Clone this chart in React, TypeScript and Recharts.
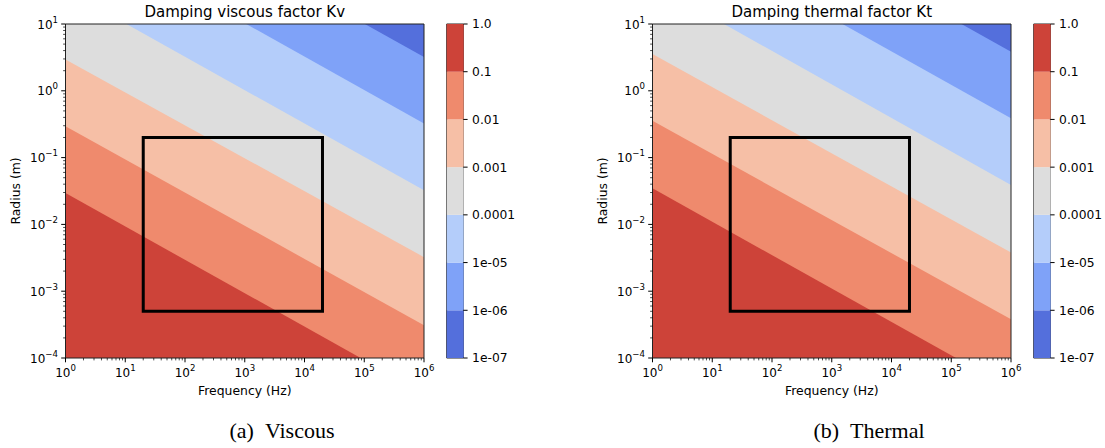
import React from 'react'
import {
  ComposedChart,
  Area,
  XAxis,
  YAxis,
  ReferenceArea,
  BarChart,
  Bar,
} from 'recharts'

// frequencies at the two ends of the x axis (Hz)
const frequencies = [1, 1e6]

// log10(radius) of each contour boundary (0.1, 0.01, ... 1e-6) at 1 Hz and at 1 MHz
const viscousAt1Hz = [-1.53, -0.53, 0.47, 1.51, 2.515, 3.505]
const viscousAt1MHz = [-4.53, -3.51, -2.49, -1.49, -0.49, 0.505]
const thermalAt1Hz = [-1.46, -0.45, 0.55, 1.6, 2.59, 3.585]
const thermalAt1MHz = [-4.46, -3.42, -2.42, -1.41, -0.41, 0.585]

// band colours, from the 1.0–0.1 band down to the 1e-06–1e-07 band
const bandColors = ['#cd4339', '#ef8a6d', '#f6bfa6', '#dddddd', '#b4cdfa', '#7fa2f8', '#546fdc']

// colorbar labels, bottom to top
const levelLabels = ['1e-07', '1e-06', '1e-05', '0.0001', '0.001', '0.01', '0.1', '1.0']

// black box: 20 Hz – 20 kHz, 0.5 mm – 0.2 m
const boxFreq = [20, 20000]
const boxRadius = [5e-4, 0.2]

const xMajor = [1, 10, 100, 1e3, 1e4, 1e5, 1e6]
const yMajor = [1e-4, 1e-3, 1e-2, 0.1, 1, 10]

const withMinors = (majors: number[]) => {
  const out: number[] = []
  majors.forEach((m, i) => {
    out.push(m)
    if (i < majors.length - 1) for (let k = 2; k < 10; k++) out.push(k * m)
  })
  return out
}
const xTicks = withMinors(xMajor)
const yTicks = withMinors(yMajor)

const FONT = 'DejaVu Sans, sans-serif'

function buildRows(at1Hz: number[], at1MHz: number[]) {
  const edges = [at1Hz, at1MHz]
  return frequencies.map((f, i) => {
    const row: any = { f }
    edges[i].forEach((logR, k) => {
      row['b' + k] = [1e-6, Math.pow(10, logR)]
    })
    row.b6 = [1e-6, 1e3]
    return row
  })
}

const expLabel = (v: number) => {
  const e = Math.round(Math.log10(v))
  return { e, major: Math.abs(Math.log10(v) - e) < 1e-6, txt: e < 0 ? '\u2212' + -e : String(e) }
}

function XTick(props: any) {
  const { x, y, payload } = props
  const { major, txt } = expLabel(payload.value)
  return (
    <g>
      <line x1={x} x2={x} y1={y} y2={y + (major ? 4.3 : 2.4)} stroke="#000" strokeWidth={major ? 1 : 0.7} />
      {major && (
        <text x={x} y={y + 18.7} textAnchor="middle" fontSize={12} fontFamily={FONT} fill="#000">
          <tspan>10</tspan>
          <tspan dy={-6} fontSize={8.6}>{txt}</tspan>
        </text>
      )}
    </g>
  )
}

function YTick(props: any) {
  const { x, y, payload } = props
  const { major, txt } = expLabel(payload.value)
  return (
    <g>
      <line x1={x - (major ? 4.3 : 2.4)} x2={x} y1={y} y2={y} stroke="#000" strokeWidth={major ? 1 : 0.7} />
      {major && (
        <text x={x - 7.5} y={y + 4.5} textAnchor="end" fontSize={12} fontFamily={FONT} fill="#000">
          <tspan>10</tspan>
          <tspan dy={-6} fontSize={8.6}>{txt}</tspan>
        </text>
      )}
    </g>
  )
}

function Panel({ left, title, tag, name, at1Hz, at1MHz }: any) {
  const rows = buildRows(at1Hz, at1MHz)
  const cbData = [{ name: 'cb', s0: 1, s1: 1, s2: 1, s3: 1, s4: 1, s5: 1, s6: 1 }]
  return (
    <div style={{ position: 'absolute', left, top: 0, width: 520, height: 448 }}>
      <div style={{ position: 'absolute', left: 0, top: 0 }}>
        <ComposedChart width={440} height={448} data={rows} margin={{ top: 24, right: 16, bottom: 50, left: 8.5 }}>
          <XAxis
            dataKey="f"
            type="number"
            scale="log"
            domain={[1, 1e6]}
            ticks={xTicks}
            interval={0}
            tick={(p: any) => <XTick {...p} />}
            tickSize={0}
            tickMargin={0}
            tickLine={false}
            axisLine={false}
            height={40}
          />
          <YAxis
            type="number"
            scale="log"
            domain={[1e-4, 10]}
            allowDataOverflow
            ticks={yTicks}
            interval={0}
            tick={(p: any) => <YTick {...p} />}
            tickSize={0}
            tickMargin={0}
            tickLine={false}
            axisLine={false}
            width={57}
          />
          {[6, 5, 4, 3, 2, 1, 0].map((k) => (
            <Area
              key={k}
              dataKey={'b' + k}
              type="linear"
              fill={bandColors[k]}
              fillOpacity={1}
              stroke="none"
              dot={false}
              activeDot={false}
              isAnimationActive={false}
            />
          ))}
          <ReferenceArea x1={1} x2={1e6} y1={1e-4} y2={10} fill="none" stroke="#222" strokeWidth={1} />
          <ReferenceArea
            x1={boxFreq[0]}
            x2={boxFreq[1]}
            y1={boxRadius[0]}
            y2={boxRadius[1]}
            fill="none"
            stroke="#000"
            strokeWidth={3}
          />
        </ComposedChart>
      </div>
      <div style={{ position: 'absolute', left: 440, top: 0 }}>
        <BarChart width={84} height={448} data={cbData} barCategoryGap={0} margin={{ top: 24, right: 0, bottom: 90, left: 6.7 }}>
          <XAxis dataKey="name" hide />
          <YAxis
            orientation="right"
            type="number"
            domain={[0, 7]}
            ticks={[0, 1, 2, 3, 4, 5, 6, 7]}
            interval={0}
            tickFormatter={(v: number) => levelLabels[v]}
            tick={{ fontSize: 12.3, fill: '#000', fontFamily: FONT }}
            tickLine={{ stroke: '#000' }}
            tickSize={4.3}
            tickMargin={4.5}
            axisLine={false}
            width={60.7}
          />
          {bandColors
            .slice()
            .reverse()
            .map((c, i) => (
              <Bar key={i} dataKey={'s' + i} stackId="cb" fill={c} isAnimationActive={false} />
            ))}
          <ReferenceArea y1={0} y2={7} fill="none" stroke="#222" strokeWidth={1} />
        </BarChart>
      </div>
      <svg width={520} height={448} style={{ position: 'absolute', left: 0, top: 0, pointerEvents: 'none' }}>
        <text x={244.75} y={16.7} textAnchor="middle" fontSize={15} fontFamily={FONT} fill="#000">
          {title}
        </text>
        <text x={244.75} y={395} textAnchor="middle" fontSize={12.4} fontFamily={FONT} fill="#000">
          Frequency (Hz)
        </text>
        <text
          transform="translate(19.5,191) rotate(-90)"
          textAnchor="middle"
          fontSize={12.4}
          fontFamily={FONT}
          fill="#000"
        >
          Radius (m)
        </text>
        <text x={282} y={438.3} textAnchor="middle" fontSize={22} fontFamily="Liberation Serif, serif" fill="#000">
          <tspan>{tag}</tspan>
          <tspan dx={11}>{name}</tspan>
        </text>
      </svg>
    </div>
  )
}

export default function App() {
  return (
    <div style={{ position: 'absolute', left: 0, top: 0, width: 1105, height: 448, background: '#fff' }}>
      <Panel left={0} title="Damping viscous factor Kv" tag="(a)" name="Viscous" at1Hz={viscousAt1Hz} at1MHz={viscousAt1MHz} />
      <Panel left={586.7} title="Damping thermal factor Kt" tag="(b)" name="Thermal" at1Hz={thermalAt1Hz} at1MHz={thermalAt1MHz} />
    </div>
  )
}
